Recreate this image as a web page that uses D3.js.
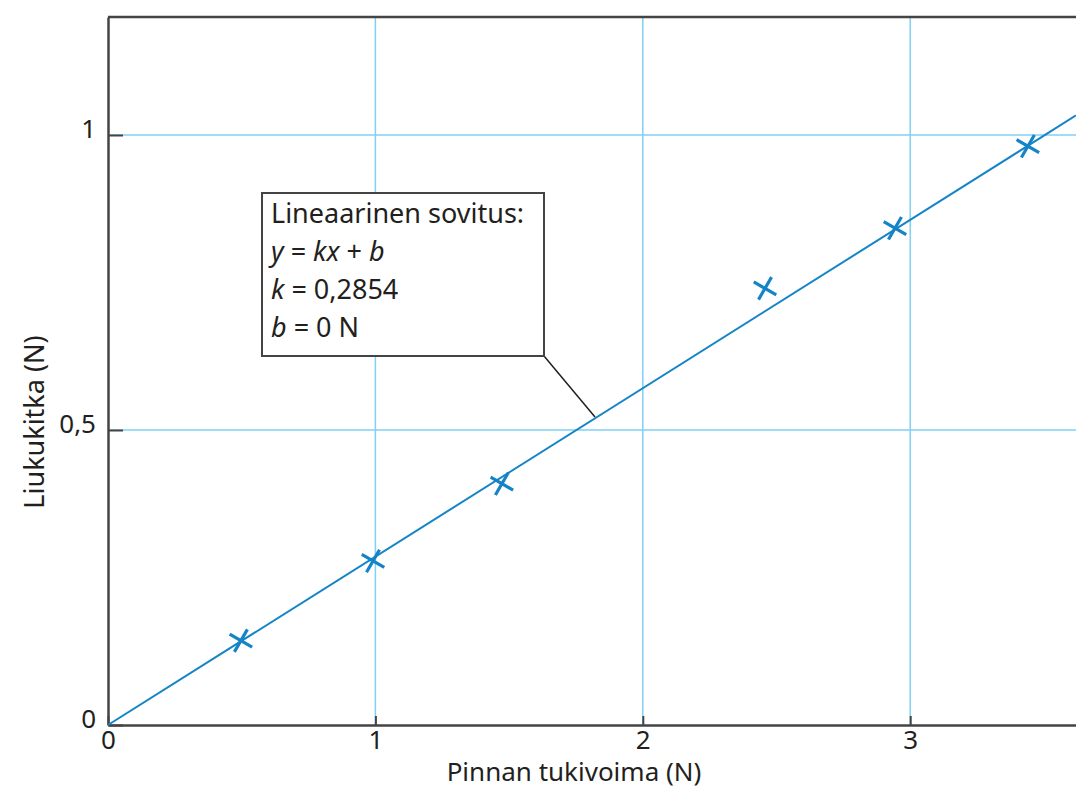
<!DOCTYPE html>
<html>
<head>
<meta charset="utf-8">
<script src="https://cdn.jsdelivr.net/npm/d3@7"></script>
<style>
  body { margin: 0; background: #fff; }
  text { font-family: "Noto Sans", sans-serif; fill: #231f20; }
</style>
</head>
<body>
<svg id="chart" width="1076" height="787"></svg>
<script>
// measured points (normal force N, friction N)
var tukivoima = [0.497, 0.991, 1.473, 2.457, 2.943, 3.44];
var liukukitka = [0.143, 0.278, 0.409, 0.740, 0.842, 0.981];
var k = 0.2854;
var b = 0;
var xTicks = [0, 1, 2, 3];
var yTicks = [0, 0.5, 1];
var fitLabel = ["Lineaarinen sovitus:", "y = kx + b", "k = 0,2854", "b = 0 N"];

var svg = d3.select("#chart");
var margin = { top: 17, left: 108, bottom: 62 },
  width = 1076, height = 787;

var x = d3.scaleLinear().domain([0, 3.62]).range([margin.left, width]);
var y = d3.scaleLinear().domain([0, 1.2]).range([height - margin.bottom, margin.top]);

var fi = d3.formatLocale({ decimal: ",", thousands: " ", grouping: [3], currency: ["", "€"] });
var fmt = fi.format("~g");

var blue = "#1584c7", grid = "#7fd0f4", dark = "#444";

// grid
svg.append("g").selectAll("line").data(xTicks.slice(1)).enter().append("line")
  .attr("x1", d => x(d)).attr("x2", d => x(d))
  .attr("y1", y(0)).attr("y2", y(1.2))
  .attr("stroke", grid).attr("stroke-width", 1.5);
svg.append("g").selectAll("line").data(yTicks.slice(1)).enter().append("line")
  .attr("x1", x(0)).attr("x2", width)
  .attr("y1", d => y(d)).attr("y2", d => y(d))
  .attr("stroke", grid).attr("stroke-width", 1.5);

// axes
var xAxis = svg.append("g")
  .attr("transform", "translate(0," + y(0) + ")")
  .call(d3.axisBottom(x).tickValues(xTicks).tickSizeInner(-9).tickSizeOuter(0).tickPadding(12).tickFormat(fmt));
var yAxis = svg.append("g")
  .attr("transform", "translate(" + x(0) + ",0)")
  .call(d3.axisLeft(y).tickValues(yTicks).tickSizeInner(-15).tickSizeOuter(0).tickPadding(12).tickFormat(fmt));

[xAxis, yAxis].forEach(function (g) {
  g.select(".domain").attr("stroke", dark).attr("stroke-width", 2.5);
  g.selectAll(".tick line").attr("stroke", dark).attr("stroke-width", 2);
  g.selectAll(".tick text").style("font-size", "26px").attr("fill", "#231f20");
});
xAxis.selectAll(".tick text").attr("dy", "0.45em");
yAxis.selectAll(".tick text").attr("dy", "0.1em");

// top frame
svg.append("line")
  .attr("x1", x(0)).attr("x2", width)
  .attr("y1", y(1.2)).attr("y2", y(1.2))
  .attr("stroke", dark).attr("stroke-width", 2.5);

// fitted line
svg.append("line")
  .attr("x1", x(0)).attr("y1", y(b))
  .attr("x2", x(3.62)).attr("y2", y(k * 3.62 + b))
  .attr("stroke", blue).attr("stroke-width", 2);

// markers: rotated plus
var pts = tukivoima.map((d, i) => [d, liukukitka[i]]);
var mk = svg.append("g").selectAll("g").data(pts).enter().append("g")
  .attr("transform", d => "translate(" + x(d[0]) + "," + y(d[1]) + ") rotate(30)");
mk.append("line").attr("x1", -13).attr("x2", 13).attr("y1", 0).attr("y2", 0);
mk.append("line").attr("y1", -13).attr("y2", 13).attr("x1", 0).attr("x2", 0);
mk.selectAll("line").attr("stroke", blue).attr("stroke-width", 3.2);

// callout
var bx = 262, by = 193, bw = 282, bh = 163;
svg.append("line")
  .attr("x1", bx + bw).attr("y1", by + bh)
  .attr("x2", 595).attr("y2", 417)
  .attr("stroke", "#231f20").attr("stroke-width", 1.5);
svg.append("rect")
  .attr("x", bx).attr("y", by).attr("width", bw).attr("height", bh)
  .attr("fill", "#fff").attr("stroke", dark).attr("stroke-width", 2);

var tx = svg.append("g").style("font-size", "27px");
tx.append("text").attr("x", bx + 9).attr("y", by + 30).text(fitLabel[0]);

function eq(row, parts) {
  var t = tx.append("text").attr("x", bx + 9).attr("y", by + 30 + row * 38);
  parts.forEach(function (p) {
    t.append("tspan").style("font-style", p[1] ? "italic" : "normal").text(p[0]);
  });
}
eq(1, [["y", 1], [" = ", 0], ["kx", 1], [" + ", 0], ["b", 1]]);
eq(2, [["k", 1], [" = 0,2854", 0]]);
eq(3, [["b", 1], [" = 0 N", 0]]);

// axis titles
svg.append("text")
  .attr("x", 574).attr("y", 781)
  .attr("text-anchor", "middle").style("font-size", "26px")
  .text("Pinnan tukivoima (N)");
svg.append("text")
  .attr("transform", "translate(44," + 422 + ") rotate(-90)")
  .attr("text-anchor", "middle").style("font-size", "27px")
  .text("Liukukitka (N)");
</script>
</body>
</html>
